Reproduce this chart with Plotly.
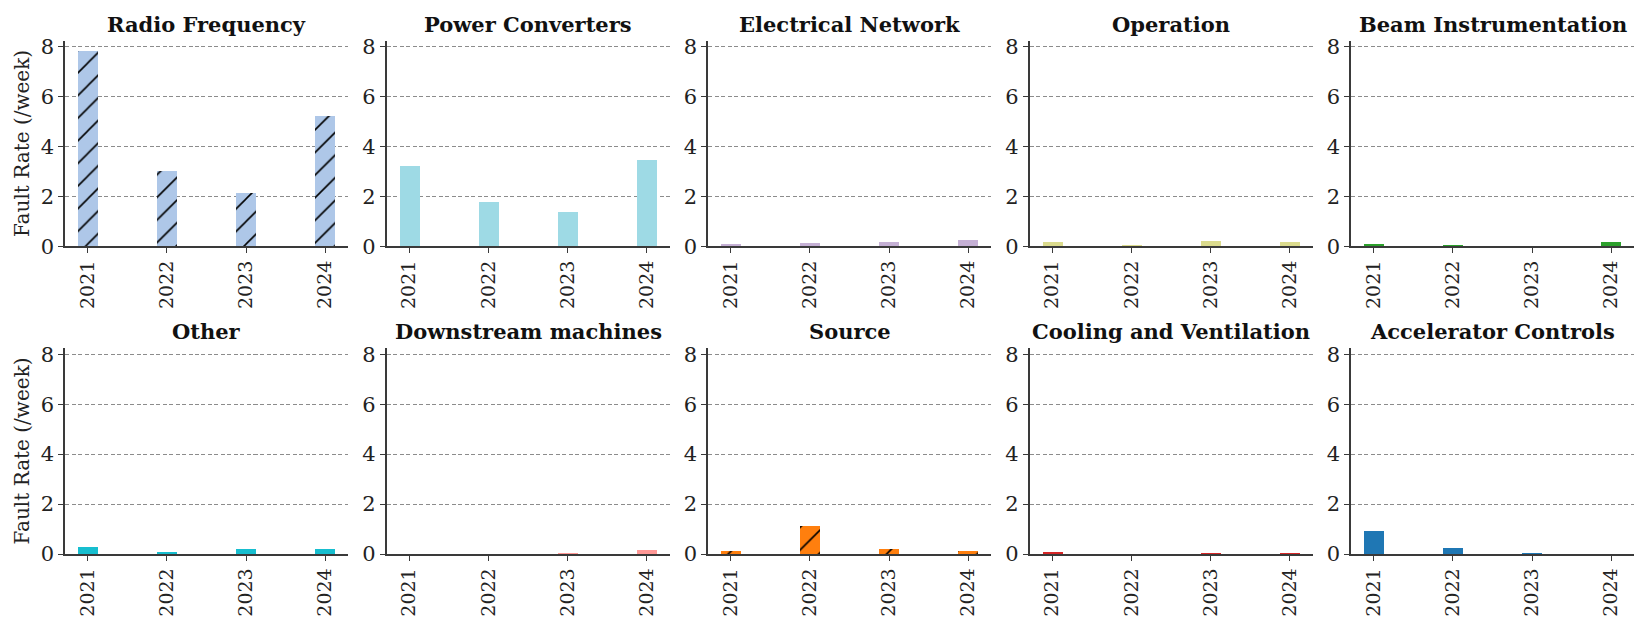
import plotly.graph_objects as go
from plotly.subplots import make_subplots

years = ["2021", "2022", "2023", "2024"]

systems = [
    "Radio Frequency", "Power Converters", "Electrical Network", "Operation",
    "Beam Instrumentation", "Other", "Downstream machines", "Source",
    "Cooling and Ventilation", "Accelerator Controls",
]

radio_frequency = [7.86, 3.02, 2.16, 5.23]
power_converters = [3.22, 1.80, 1.38, 3.48]
electrical_network = [0.10, 0.14, 0.20, 0.29]
operation = [0.21, 0.07, 0.22, 0.21]
beam_instrumentation = [0.12, 0.04, 0.0, 0.21]
other = [0.29, 0.07, 0.20, 0.22]
downstream_machines = [0.0, 0.0, 0.02, 0.17]
source = [0.14, 1.14, 0.22, 0.13]
cooling_ventilation = [0.08, 0.0, 0.04, 0.04]
accelerator_controls = [0.92, 0.25, 0.05, 0.0]

series = [
    radio_frequency, power_converters, electrical_network, operation,
    beam_instrumentation, other, downstream_machines, source,
    cooling_ventilation, accelerator_controls,
]

colors = [
    "#aec7e8", "#9edae5", "#c5b0d5", "#dbdb8d", "#2ca02c",
    "#17becf", "#ff9896", "#ff7f0e", "#d62728", "#1f77b4",
]
hatched = {"Radio Frequency", "Source"}

W, H = 1643, 627
FONT = "DejaVu Serif"
AXIS_COLOR = "#3a3a3a"

# panel geometry (pixels)
lefts = [65, 386.5, 708, 1029.5, 1351]
panel_w = 283
row_px = [(36.5, 248.0), (352.5, 564.3)]

fig = make_subplots(rows=2, cols=5)

ymax = max(max(v) for v in series) * 1.05
bar_w = 0.25
xpad = (3 + bar_w) * 0.05

annotations = []
for i, (name, vals, col) in enumerate(zip(systems, series, colors)):
    r, c = divmod(i, 5)
    marker = dict(color=col, line=dict(width=0))
    if name in hatched:
        marker["pattern"] = dict(shape="/", fgcolor="#000000", bgcolor=col,
                                 size=16, solidity=0.1, fillmode="replace")
    fig.add_trace(
        go.Bar(x=list(range(len(years))), y=vals, width=bar_w, marker=marker,
               showlegend=False, name=name),
        row=r + 1, col=c + 1,
    )
    x0 = lefts[c] / W
    x1 = (lefts[c] + panel_w) / W
    top_px, bot_px = row_px[r]
    y0 = 1 - bot_px / H
    y1 = 1 - top_px / H
    idx = "" if i == 0 else str(i + 1)
    fig.layout["xaxis" + idx].update(
        domain=[x0, x1], range=[-bar_w / 2 - xpad, 3 + bar_w / 2 + xpad],
        tickmode="array", tickvals=list(range(len(years))), ticktext=years,
        tickangle=-90, ticks="outside", ticklen=5, tickwidth=1.3,
        tickcolor=AXIS_COLOR, showline=True, linecolor=AXIS_COLOR,
        linewidth=1.5, showgrid=False, zeroline=False,
        tickfont=dict(family=FONT, size=19, color="#222"),
    )
    fig.layout["yaxis" + idx].update(
        domain=[y0, y1], range=[0, ymax],
        tickmode="array", tickvals=[0, 2, 4, 6, 8],
        ticks="outside", ticklen=5, tickwidth=1.3, tickcolor=AXIS_COLOR,
        showline=True, linecolor=AXIS_COLOR, linewidth=1.5,
        showgrid=True, gridcolor="#8c8c8c", griddash="4px,2.5px", gridwidth=1,
        zeroline=False,
        tickfont=dict(family=FONT, size=21, color="#222"),
    )
    if c == 0:
        fig.layout["yaxis" + idx].update(
            title=dict(text="Fault Rate (/week)", standoff=6,
                       font=dict(family=FONT, size=20, color="#222")))
    annotations.append(dict(
        text=f"<b>{name}</b>", x=(x0 + x1) / 2, y=y1, xref="paper",
        yref="paper", xanchor="center", yanchor="bottom", yshift=2,
        showarrow=False, font=dict(family=FONT, size=21, color="#111"),
    ))

fig.update_layout(
    width=W, height=H, margin=dict(l=0, r=0, t=0, b=0),
    plot_bgcolor="white", paper_bgcolor="white",
    annotations=annotations, bargap=0,
)

fig.write_html("out.html")
